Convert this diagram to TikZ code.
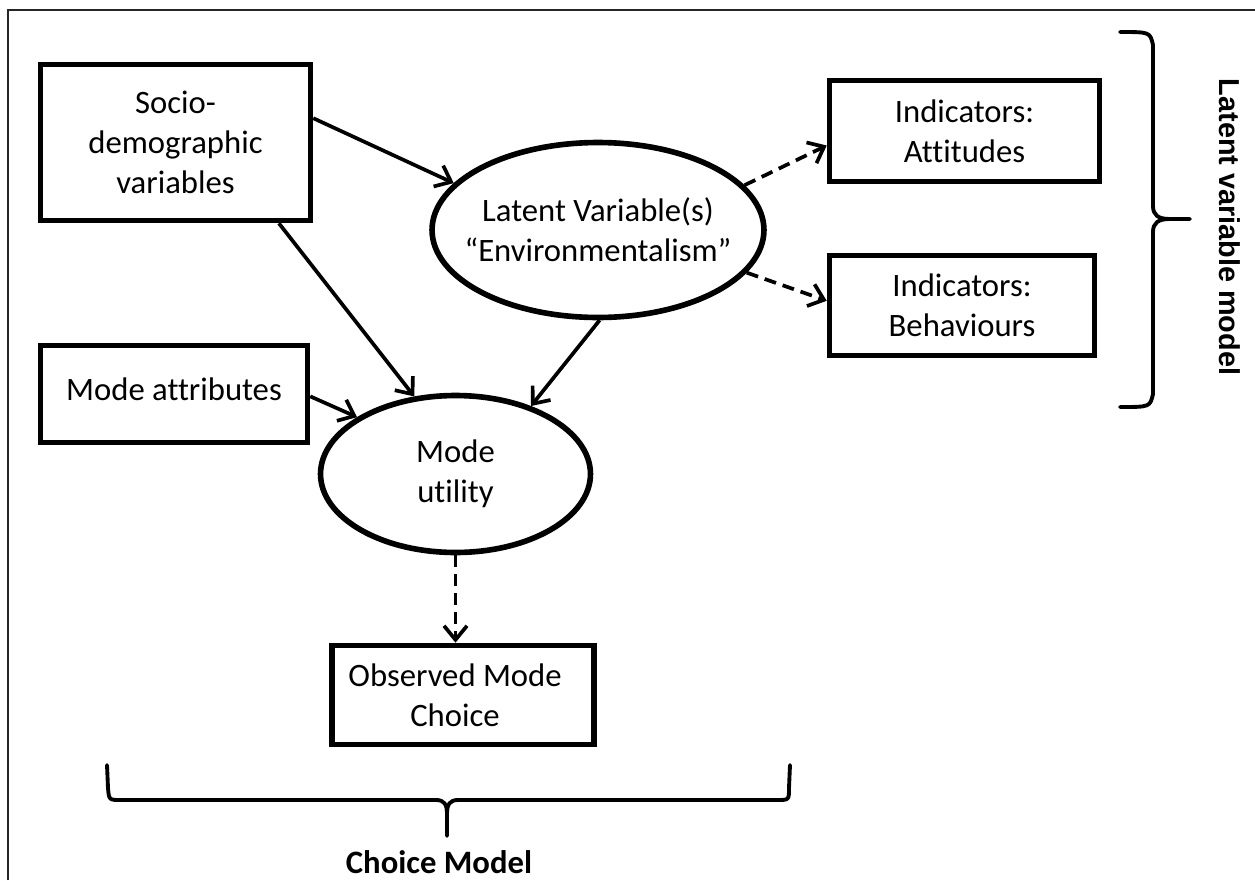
\documentclass[tikz,border=0pt]{standalone}
\usepackage{fontspec}
\setmainfont{Carlito}[Ligatures=NoCommon]
\newfontfamily\arialfont{Liberation Sans}[BoldFont={Liberation Sans Bold}]
\usetikzlibrary{arrows.meta,shapes.geometric}
\tikzset{
  body/.style={font=\fontsize{18.6pt}{22.8pt}\selectfont, align=center, text=black},
  box/.style={body, draw, line width=3.2pt, rectangle, inner sep=0pt},
  ell/.style={draw, line width=3.2pt, ellipse, inner sep=0pt},
  arr/.style={line width=2.1pt, -{Straight Barb[length=0.28cm,width=0.46cm,line width=2.1pt]}},
  darr/.style={arr, dash pattern=on 0.24cm off 0.14cm},
  bracepath/.style={line width=2.2pt, line cap=round, line join=round},
  bracelabel/.style={font=\fontsize{18.6pt}{22.8pt}\selectfont\bfseries}
}
\begin{document}
\begin{tikzpicture}[x=0.02cm, y=-0.02cm]
\useasboundingbox (0,0) rectangle (1255,880);
\fill[white] (0,0) rectangle (1255,880);
% outer frame
\draw[line width=1.1pt, draw=black!85] (8,880) -- (8,10) -- (1255,10);

% nodes
\node[box, minimum width=5.4cm, minimum height=3.12cm] (socio) at (175.5,142.5) {Socio-\\demographic\\variables};
\node[box, minimum width=5.34cm, minimum height=1.94cm] (attr) at (174,394) {\raisebox{0.18cm}{Mode attributes}};
\node[ell, minimum width=6.64cm, minimum height=3.5cm,
      label={[body]center:Latent Variable(s)\\\char"201C Environmentalism\char"201D}] (latent) at (598,230) {};
\node[ell, minimum width=5.4cm, minimum height=3.14cm,
      label={[body]center:Mode\\utility}] (util) at (455.5,474) {};
\node[box, minimum width=5.4cm, minimum height=2.02cm] (att) at (964.5,131) {Indicators:\\Attitudes};
\node[box, minimum width=5.3cm, minimum height=2.0cm] (beh) at (962,305.5) {Indicators:\\Behaviours};
\node[box, minimum width=5.24cm, minimum height=1.98cm] (obs) at (463,695) {Observed Mode\hspace*{0.32cm}\\Choice\hspace*{0.32cm}};

% connectors
\draw[arr] (socio.10) -- (latent.162);
\draw[arr] (socio.-38) -- (util.118.6);
\draw[arr] (attr.-1) -- (util.150);
\draw[arr] (latent.-89) -- (util.42.5);
\draw[darr] (latent.17) -- (att.186.5);
\draw[darr] (latent.-16.5) -- (beh.178.6);
\draw[darr] (util.south) -- (util.south |- obs.north);

% right brace
\draw[bracepath] (1120,32) .. controls (1150,32) .. (1153,45) -- (1153,206)
  .. controls (1153,215) and (1158,219) .. (1170,219) -- (1190,219);
\draw[bracepath] (1170,219) .. controls (1158,219) and (1153,223) .. (1153,232)
  -- (1153,394) .. controls (1150,407) .. (1120,407);
\node[rotate=-90, font=\arialfont\bfseries\fontsize{16.4pt}{19pt}\selectfont] (lvm) at (1230,227) {Latent variable model};

% bottom brace
\draw[bracepath] (107,765) -- (108,788) .. controls (109,800) .. (121,800) -- (436,800)
  .. controls (444,800) and (447,804) .. (447,814) -- (447,836);
\draw[bracepath] (447,814) .. controls (447,804) and (450,800) .. (458,800) -- (777,800)
  .. controls (789,800) .. (789,788) -- (790,765);
\node[bracelabel] (cm) at (439,862) {Choice Model};
\end{tikzpicture}
\end{document}
